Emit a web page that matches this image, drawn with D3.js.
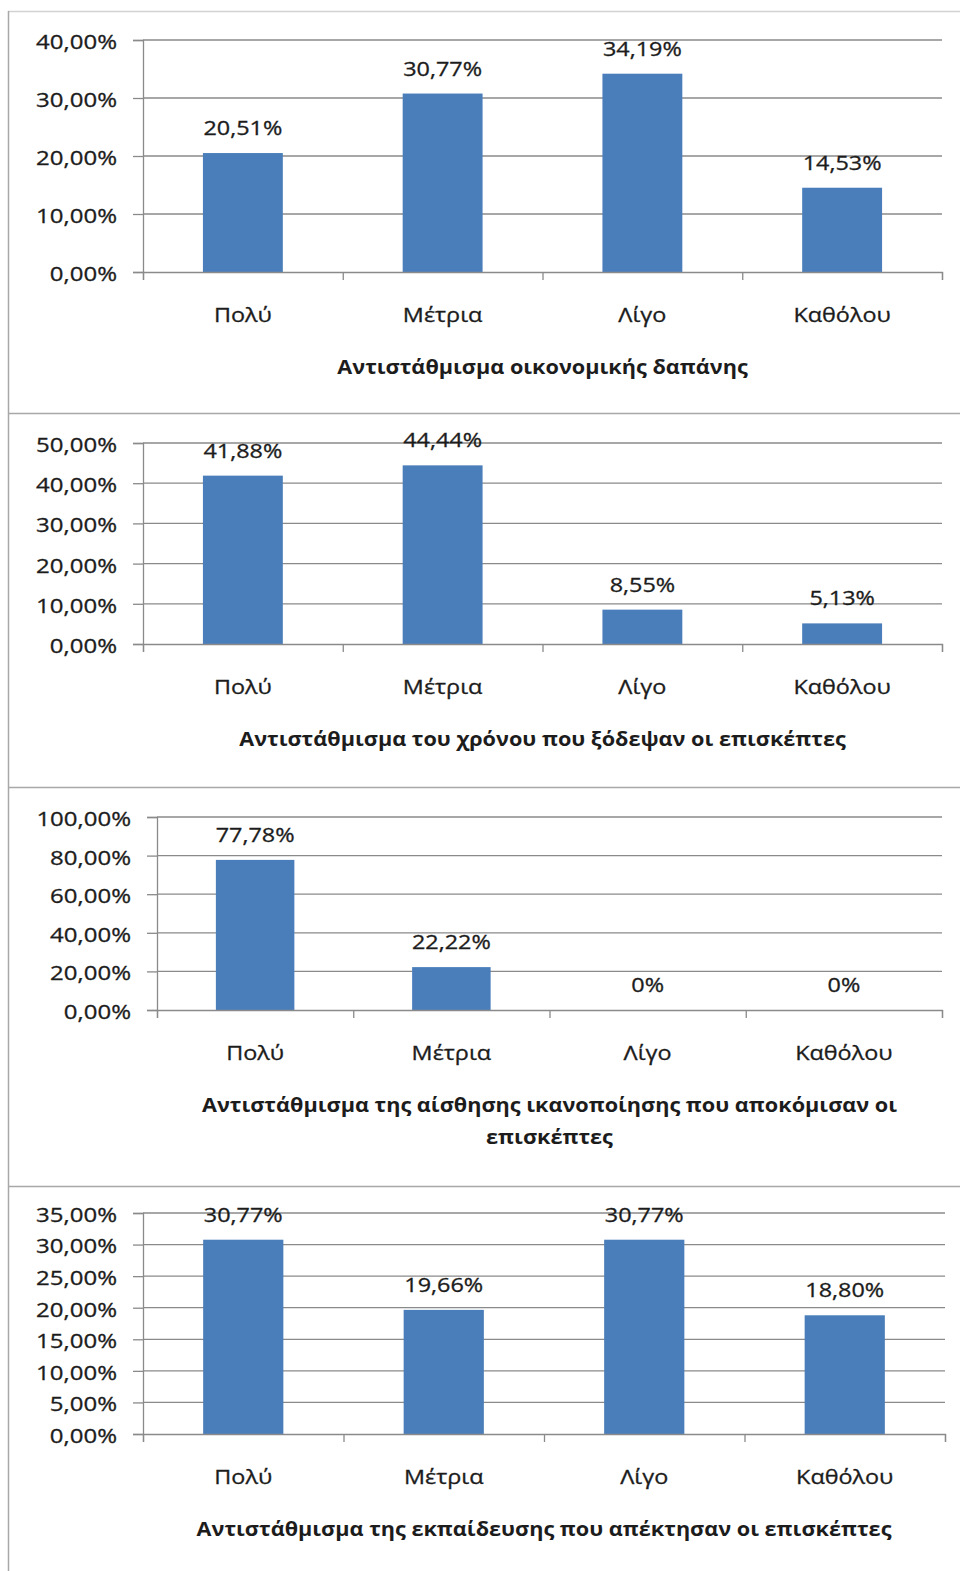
<!DOCTYPE html>
<html>
<head>
<meta charset="utf-8">
<script src="https://cdn.jsdelivr.net/npm/d3@7"></script>
<style>
  html, body { margin: 0; padding: 0; background: #fff; }
  svg { display: block; }
  text { font-family: "Open Sans", "Noto Sans", sans-serif; fill: #1c1c1c; }
  .reg { stroke: #1c1c1c; stroke-width: 0.3; }
</style>
</head>
<body>
<svg id="chart" width="960" height="1571"></svg>
<script>
// Response categories shared by all four panels
const categories = ["Πολύ", "Μέτρια", "Λίγο", "Καθόλου"];

// Panel titles (x-axis titles); a nested array means a wrapped title
const titleExpense = ["Αντιστάθμισμα οικονομικής δαπάνης"];
const titleTime = ["Αντιστάθμισμα του χρόνου που ξόδεψαν οι επισκέπτες"];
const titleSatisfaction = ["Αντιστάθμισμα της αίσθησης ικανοποίησης που αποκόμισαν οι", "επισκέπτες"];
const titleEducation = ["Αντιστάθμισμα της εκπαίδευσης που απέκτησαν οι επισκέπτες"];

// Shares of respondents (%)
const valuesExpense = [20.51, 30.77, 34.19, 14.53];
const valuesTime = [41.88, 44.44, 8.55, 5.13];
const valuesSatisfaction = [77.78, 22.22, 0, 0];
const valuesEducation = [30.77, 19.66, 30.77, 18.80];

// Value-axis ticks (%)
const ticksExpense = [0, 10, 20, 30, 40];
const ticksTime = [0, 10, 20, 30, 40, 50];
const ticksSatisfaction = [0, 20, 40, 60, 80, 100];
const ticksEducation = [0, 5, 10, 15, 20, 25, 30, 35];

const svg = d3.select("#chart");
const BAR = "#4a7ebb";
const GRID = "#8a8a8a";
const SX = 1.2;        // horizontal stretch for regular text
const SX_TITLE = 1.14; // horizontal stretch for bold titles

const fmtTick = v => v.toFixed(2).replace(".", ",") + "%";
const fmtLabel = v => v === 0 ? "0%" : v.toFixed(2).replace(".", ",") + "%";

// Outer frame and panel separators
const frame = svg.append("g");
frame.append("line").attr("x1", 8).attr("x2", 960).attr("y1", 11.5).attr("y2", 11.5)
  .attr("stroke", "#d2d2d2").attr("stroke-width", 1.5);
frame.append("line").attr("x1", 8.5).attr("x2", 8.5).attr("y1", 11).attr("y2", 1571)
  .attr("stroke", "#a8a8a8").attr("stroke-width", 1.5);
[413, 787, 1186].forEach(y => {
  frame.append("line").attr("x1", 8).attr("x2", 960).attr("y1", y + 0.5).attr("y2", y + 0.5)
    .attr("stroke", "#a8a8a8").attr("stroke-width", 1.5);
});

function stretch(sel, sx, anchorX) {
  sel.attr("transform", function () {
    const t = d3.select(this);
    const x = anchorX !== undefined ? anchorX : +t.attr("x") || 0;
    return `translate(${x},0) scale(${sx},1) translate(${-x},0)`;
  });
}

function panel(cfg) {
  const g = svg.append("g");
  const y = d3.scaleLinear().domain([0, cfg.ticks[cfg.ticks.length - 1]]).range([cfg.bottom, cfg.top]);
  const x = d3.scaleBand().domain(categories).range([cfg.left, cfg.right])
    .paddingInner(0.6).paddingOuter(0.3);
  const xEdges = d3.scaleLinear().domain([0, categories.length]).range([cfg.left, cfg.right]);

  // horizontal gridlines
  g.append("g").selectAll("line").data(cfg.ticks.slice(1)).join("line")
    .attr("x1", cfg.left).attr("x2", cfg.right)
    .attr("y1", d => y(d)).attr("y2", d => y(d))
    .attr("stroke", GRID).attr("stroke-width", 1.3);

  // bars
  g.append("g").selectAll("rect").data(cfg.values).join("rect")
    .attr("x", (d, i) => x(categories[i]))
    .attr("width", x.bandwidth())
    .attr("y", d => y(d))
    .attr("height", d => y(0) - y(d))
    .attr("fill", BAR);

  // value axis
  const ya = g.append("g").attr("transform", `translate(${cfg.left},0)`)
    .call(d3.axisLeft(y).tickValues(cfg.ticks).tickSize(10).tickPadding(16).tickFormat(fmtTick));
  ya.select(".domain").attr("stroke", GRID).attr("stroke-width", 1.3);
  ya.selectAll(".tick line").attr("stroke", GRID).attr("stroke-width", 1.3);
  ya.selectAll(".tick text").attr("font-size", 20).attr("fill", "#1c1c1c")
    .attr("font-family", "'Open Sans', sans-serif").attr("dy", "0.42em")
    .classed("reg", true)
    .each(function () { stretch(d3.select(this), SX, -26); });

  // category axis with tick marks at category boundaries
  const xa = g.append("g").attr("transform", `translate(0,${cfg.bottom})`)
    .call(d3.axisBottom(xEdges).tickValues(d3.range(categories.length + 1)).tickSize(8).tickFormat(""));
  xa.select(".domain").attr("stroke", GRID).attr("stroke-width", 1.3);
  xa.selectAll(".tick line").attr("stroke", GRID).attr("stroke-width", 1.3);

  // category labels
  g.append("g").selectAll("text").data(categories).join("text")
    .attr("class", "reg")
    .attr("x", d => x(d) + x.bandwidth() / 2)
    .attr("y", cfg.bottom + 50)
    .attr("text-anchor", "middle").attr("font-size", 19.5)
    .text(d => d)
    .each(function () { stretch(d3.select(this), SX); });

  // data labels
  g.append("g").selectAll("text").data(cfg.values).join("text")
    .attr("class", "reg")
    .attr("x", (d, i) => x(categories[i]) + x.bandwidth() / 2)
    .attr("y", d => y(d) - 18)
    .attr("text-anchor", "middle").attr("font-size", 19.5)
    .text(d => fmtLabel(d))
    .each(function () { stretch(d3.select(this), SX); });

  // axis title
  const cx = (cfg.left + cfg.right) / 2;
  g.append("g").selectAll("text").data(cfg.title).join("text")
    .attr("x", cx)
    .attr("y", (d, i) => cfg.bottom + 102 + i * 32)
    .attr("text-anchor", "middle").attr("font-size", 19).attr("font-weight", 700)
    .text(d => d)
    .each(function () { stretch(d3.select(this), SX_TITLE); });
}

panel({ values: valuesExpense, ticks: ticksExpense, title: titleExpense, left: 143, right: 942, top: 40, bottom: 272 });
panel({ values: valuesTime, ticks: ticksTime, title: titleTime, left: 143, right: 942, top: 443, bottom: 644 });
panel({ values: valuesSatisfaction, ticks: ticksSatisfaction, title: titleSatisfaction, left: 157, right: 942, top: 817, bottom: 1010 });
panel({ values: valuesEducation, ticks: ticksEducation, title: titleEducation, left: 143, right: 945, top: 1213, bottom: 1434 });
</script>
</body>
</html>
